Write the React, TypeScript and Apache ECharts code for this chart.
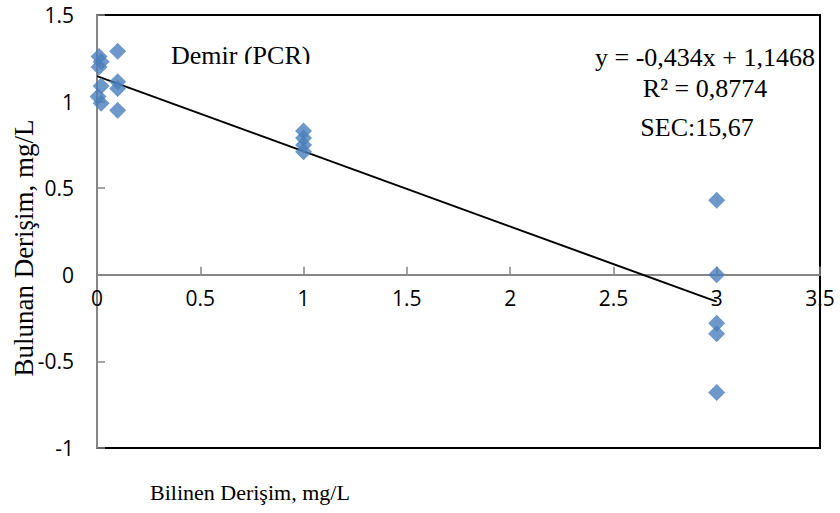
import React, { useEffect, useRef } from "react";
import * as echarts from "echarts";

const knownConc = [0.01, 0.02, 0.01, 0.02, 0.005, 0.02, 0.1, 0.1, 0.1, 0.1, 1, 1, 1, 1, 3, 3, 3, 3, 3];
const foundConc = [1.26, 1.23, 1.2, 1.09, 1.03, 0.99, 1.29, 1.115, 1.075, 0.95, 0.83, 0.79, 0.75, 0.71, 0.43, 0.0, -0.28, -0.34, -0.68];
const trendX = [0, 3];
const trendY = [1.1468, -0.1552];
const xTicks = { min: 0, max: 3.5, interval: 0.5 };
const yTicks = { min: -1, max: 1.5, interval: 0.5 };
const chartTitle = "Demir (PCR)";
const equationLines = ["y = -0,434x + 1,1468", "R² = 0,8774", "SEC:15,67"];
const xTitle = "Bilinen Derişim, mg/L";
const yTitle = "Bulunan Derişim, mg/L";

const SERIF = "'Liberation Serif', 'Times New Roman', serif";
const SANS = "'Open Sans', sans-serif";

const GRID_TOP = 15;
const GRID_BOTTOM_PX = 448;

export default function App() {
  const ref = useRef<HTMLDivElement>(null);
  useEffect(() => {
    document.body.style.margin = "0";
    if (!ref.current) return;
    const chart = echarts.init(ref.current, null, { renderer: "svg" });
    const points = knownConc.map((x, i) => [x, foundConc[i]]);
    const trend = trendX.map((x, i) => [x, trendY[i]]);
    // pixel position of y = 0 inside the grid
    const zeroY = GRID_TOP + ((yTicks.max - 0) / (yTicks.max - yTicks.min)) * (GRID_BOTTOM_PX - GRID_TOP);
    chart.setOption({
      animation: false,
      backgroundColor: "#ffffff",
      grid: {
        left: 97,
        top: GRID_TOP,
        right: 20,
        bottom: 513 - GRID_BOTTOM_PX,
        show: true,
        borderColor: "#000000",
        borderWidth: 2,
        backgroundColor: "transparent",
      },
      xAxis: {
        type: "value",
        min: xTicks.min,
        max: xTicks.max,
        interval: xTicks.interval,
        position: "bottom",
        offset: -(GRID_BOTTOM_PX - zeroY),
        axisLine: { onZero: false, lineStyle: { color: "#868686", width: 2 } },
        axisTick: { show: true, inside: true, length: 8, lineStyle: { color: "#868686", width: 1.5 } },
        axisLabel: { color: "#000", fontFamily: SANS, fontSize: 21, margin: 13 },
        splitLine: { show: false },
      },
      yAxis: {
        type: "value",
        min: yTicks.min,
        max: yTicks.max,
        interval: yTicks.interval,
        axisLine: { show: true, onZero: false, lineStyle: { color: "#868686", width: 2 } },
        axisTick: { show: true, inside: true, length: 8, lineStyle: { color: "#868686", width: 1.5 } },
        axisLabel: { color: "#000", fontFamily: SANS, fontSize: 21, margin: 23 },
        splitLine: { show: false },
      },
      series: [
        {
          type: "line",
          data: trend,
          symbol: "none",
          lineStyle: { color: "#000", width: 2 },
          z: 3,
        },
        {
          type: "scatter",
          data: points,
          symbol: "diamond",
          symbolSize: 17,
          itemStyle: { color: "#4A7EBB" },
          z: 4,
        },
      ],
      graphic: [
        {
          type: "text",
          left: 171,
          top: 42,
          style: { text: chartTitle, font: `26px ${SERIF}`, fill: "#000" },
          z: 10,
        },
        {
          type: "rect",
          shape: { x: 165, y: 64, width: 155, height: 10 },
          style: { fill: "#fff" },
          z: 11,
        },
        ...equationLines.map((t, i) => ({
          type: "text",
          x: [705, 705, 697][i],
          y: [57, 88, 127][i],
          style: {
            text: t,
            font: `26px ${SERIF}`,
            fill: "#000",
            align: "center",
            verticalAlign: "middle",
          },
          z: 10,
        })),
        {
          type: "text",
          x: 150,
          y: 492,
          style: { text: xTitle, font: `22px ${SERIF}`, fill: "#000", align: "left", verticalAlign: "middle" },
        },
        {
          type: "text",
          x: 24,
          y: 248,
          rotation: Math.PI / 2,
          style: { text: yTitle, font: `27px ${SERIF}`, fill: "#000", align: "center", verticalAlign: "middle" },
        },
      ],
    });
    return () => chart.dispose();
  }, []);
  return <div ref={ref} style={{ width: 840, height: 513 }} />;
}
